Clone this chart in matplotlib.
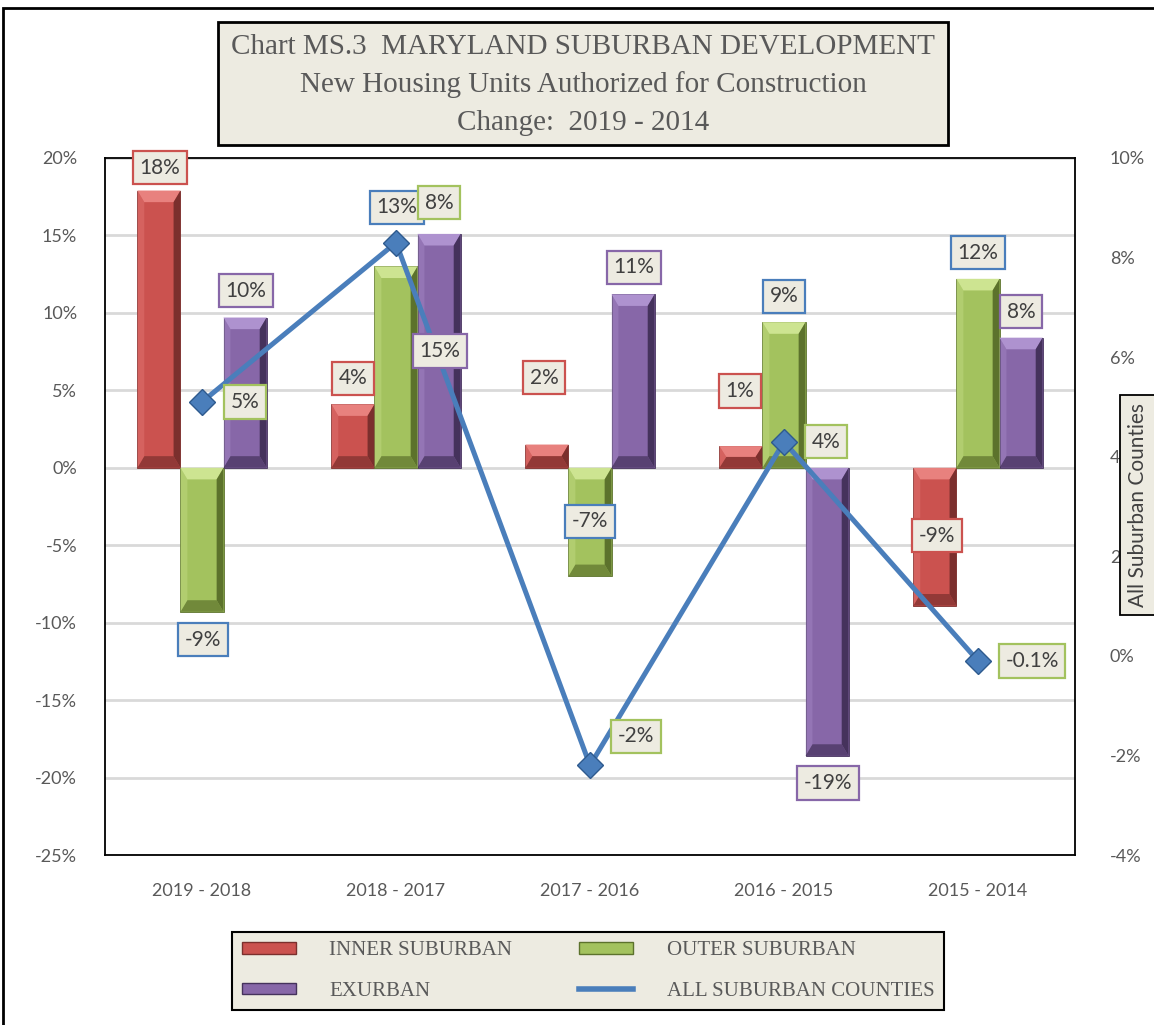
import matplotlib
matplotlib.use("Agg")
import matplotlib.pyplot as plt
from matplotlib.patches import Polygon, Rectangle, Patch
from matplotlib.lines import Line2D

# data (percent change)
periods = ["2019 - 2018", "2018 - 2017", "2017 - 2016", "2016 - 2015", "2015 - 2014"]
inner = [17.9, 4.1, 1.5, 1.4, -8.9]
outer = [-9.3, 13.0, -7.0, 9.4, 12.2]
exurban = [9.7, 15.1, 11.2, -18.6, 8.4]
all_counties = [5.1, 8.3, -2.2, 4.3, -0.1]

left_ticks = [-25, -20, -15, -10, -5, 0, 5, 10, 15, 20]
right_ticks = [-4, -2, 0, 2, 4, 6, 8, 10]

# label offsets in pixels (dx, dy) from the end of each mark
off_inner = [(1, 23), (0, 26), (-3, 67), (-1, 55), (2, 70)]
off_outer = [(1, -28), (1, 59), (0, 55), (0, 26), (0, 26)]
off_exurban = [(1, 27), (1, -117), (1, 27), (1, -27), (0, 26)]
off_line = [(43, 0), (43, 40), (46, 29), (42, 0), (54, 0)]

RED, RED_L, RED_D = "#CB524F", "#E8817E", "#7B2F2D"
GRN, GRN_L, GRN_D = "#A3C25E", "#CDE491", "#5C722C"
PUR, PUR_L, PUR_D = "#8767A8", "#AE92CF", "#45325C"
BLUE = "#4A7EBB"
BEIGE = "#EDEBE1"
TXT = "#404040"
SANS = ["Lato", "DejaVu Sans"]
SERIF = ["Liberation Serif", "DejaVu Serif"]

fig = plt.figure(figsize=(11.54, 10.25), dpi=100)
ax = fig.add_axes([105 / 1154, 1 - 855 / 1025, 970 / 1154, 697 / 1025])
ax2 = ax.twinx()
ax.set_zorder(1)
ax2.set_zorder(2)
ax2.patch.set_visible(False)

x = list(range(len(periods)))
w = 0.222


def bevel(bars, light, dark):
    for r in bars:
        x0, w0 = r.get_x(), r.get_width()
        lo = min(r.get_y(), r.get_y() + r.get_height())
        hi = max(r.get_y(), r.get_y() + r.get_height())
        bx = 0.16 * w0
        by = min(0.75, (hi - lo) / 2)
        x1 = x0 + w0
        ax.add_patch(Polygon([(x0, hi), (x1, hi), (x1 - bx, hi - by), (x0 + bx, hi - by)],
                             color=light, lw=0, zorder=3))
        ax.add_patch(Polygon([(x1, hi), (x1, lo), (x1 - bx, lo + by), (x1 - bx, hi - by)],
                             color=dark, lw=0, zorder=3))
        ax.add_patch(Polygon([(x0, lo), (x1, lo), (x1 - bx, lo + by), (x0 + bx, lo + by)],
                             color=dark, lw=0, alpha=0.7, zorder=3))
        ax.add_patch(Polygon([(x0, hi), (x0, lo), (x0 + bx, lo + by), (x0 + bx, hi - by)],
                             color=light, lw=0, alpha=0.35, zorder=3))


b1 = ax.bar([i - w for i in x], inner, w, color=RED, edgecolor=RED_D, lw=0.6, zorder=2)
b2 = ax.bar(x, outer, w, color=GRN, edgecolor=GRN_D, lw=0.6, zorder=2)
b3 = ax.bar([i + w for i in x], exurban, w, color=PUR, edgecolor=PUR_D, lw=0.6, zorder=2)
bevel(b1, RED_L, RED_D)
bevel(b2, GRN_L, GRN_D)
bevel(b3, PUR_L, PUR_D)

ax2.plot(x, all_counties, color=BLUE, lw=3.6, marker="D", markersize=13,
         markerfacecolor=BLUE, markeredgecolor="#2E5A8E", markeredgewidth=1, zorder=4)

ax.set_xlim(-0.5, 4.5)
ax.set_ylim(-25, 20)
ax2.set_ylim(-4, 10)
ax.set_yticks(left_ticks)
ax.set_yticklabels([f"{t}%" for t in left_ticks])
ax2.set_yticks(right_ticks)
ax2.set_yticklabels([f"{t}%" for t in right_ticks])
ax.set_xticks(x)
ax.set_xticklabels(periods)
ax.yaxis.grid(True, color="#D9D9D9", lw=2)
ax.set_axisbelow(True)
for a in (ax, ax2):
    a.tick_params(length=0, labelsize=13, labelcolor="#595959")
    for t in a.get_xticklabels() + a.get_yticklabels():
        t.set_family(SANS)
ax.tick_params(axis="y", pad=20)
ax.tick_params(axis="x", pad=20)
ax2.tick_params(axis="y", pad=25)
for s in ax.spines.values():
    s.set_color("black")
    s.set_linewidth(1.3)
for s in ax2.spines.values():
    s.set_visible(False)


def label(vals, xs, offs, edge, trans, fmt):
    for xi, v, (dx, dy) in zip(xs, vals, offs):
        ax2.annotate(fmt(v), xy=(xi, v), xycoords=trans, xytext=(dx, dy),
                     textcoords="offset pixels", ha="center", va="center",
                     fontsize=15, color=TXT, family=SANS, zorder=10,
                     bbox=dict(boxstyle="square,pad=0.32", fc=BEIGE, ec=edge, lw=1.6),
                     annotation_clip=False)


def pct(v):
    return f"{v:.1f}%" if abs(v) < 1 else f"{v:.0f}%"


label(inner, [i - w for i in x], off_inner, RED, ax.transData, pct)
label(outer, x, off_outer, BLUE, ax.transData, pct)
label(exurban, [i + w for i in x], off_exurban, PUR, ax.transData, pct)
label(all_counties, x, off_line, GRN, ax2.transData, pct)

# right axis title box (sits over the tick labels, as in the original)
fig.text(1138 / 1154, 1 - 505 / 1025, "All Suburban Counties", rotation=90,
         ha="center", va="center", fontsize=15, color=TXT, family=SANS,
         bbox=dict(boxstyle="square,pad=0.4", fc=BEIGE, ec="black", lw=1.3))

# title box
fig.patches.append(Rectangle((218 / 1154, 1 - 145 / 1025), 730 / 1154, 123 / 1025,
                             transform=fig.transFigure, fc=BEIGE, ec="black", lw=2))
title_lines = ["Chart MS.3  MARYLAND SUBURBAN DEVELOPMENT",
               "New Housing Units Authorized for Construction",
               "Change:  2019 - 2014"]
for k, line in enumerate(title_lines):
    fig.text(583 / 1154, 1 - (47 + 38 * k) / 1025, line, ha="center", va="center",
             fontsize=21, color="#595959", family=SERIF)

# outer chart border
fig.patches.append(Rectangle((3 / 1154, -0.01), 1.0, (1025 - 8) / 1025 + 0.01,
                             transform=fig.transFigure, fill=False, ec="black", lw=2))

handles = [Patch(fc=RED, ec=RED_D), Patch(fc=PUR, ec=PUR_D),
           Patch(fc=GRN, ec=GRN_D), Line2D([], [], color=BLUE, lw=4)]
names = ["INNER SUBURBAN", "EXURBAN", "OUTER SUBURBAN", "ALL SUBURBAN COUNTIES"]
leg = fig.legend(handles, names, ncol=2, loc="center",
                 bbox_to_anchor=(588 / 1154, 1 - 971 / 1025),
                 prop={"family": SERIF, "size": 15}, labelcolor="#595959",
                 frameon=True, fancybox=False, facecolor=BEIGE, edgecolor="black",
                 framealpha=1, handlelength=2.6, handleheight=0.5,
                 handletextpad=1.6, columnspacing=3.2, labelspacing=1.05,
                 borderpad=0.45)
leg.get_frame().set_linewidth(1.5)

fig.savefig("out.png", dpi=100)
